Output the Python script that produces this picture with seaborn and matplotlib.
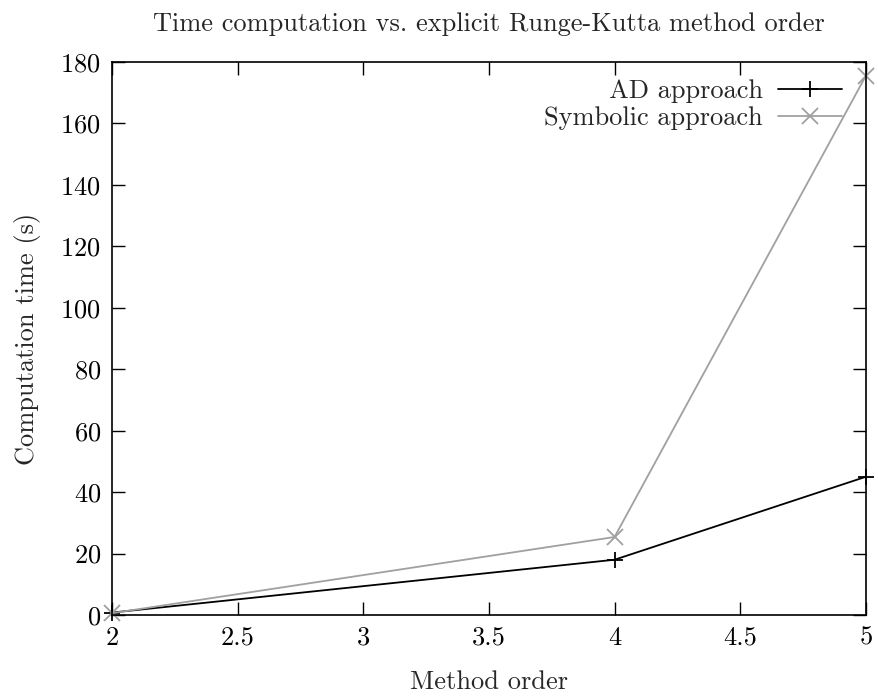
"""Computation time vs. explicit Runge-Kutta method order."""

import matplotlib
matplotlib.use("Agg")
import matplotlib.pyplot as plt
import pandas as pd
import seaborn as sns

orders = [2, 4, 5]
ad_times = [0.8, 18.0, 45.0]
symbolic_times = [0.6, 25.4, 175.5]

df = pd.DataFrame({
    "order": orders * 2,
    "time": ad_times + symbolic_times,
    "approach": ["AD approach"] * 3 + ["Symbolic approach"] * 3,
})

sns.set_theme(style="ticks")
plt.rcParams["font.family"] = ["cmr10", "DejaVu Serif"]
plt.rcParams["axes.formatter.use_mathtext"] = True
plt.rcParams["mathtext.fontset"] = "cm"

FS = 19

fig = plt.figure(figsize=(8.79, 6.97), dpi=100)
ax = fig.add_axes([0.1274, 0.1176, 0.8576, 0.7934])

palette = {"AD approach": "black", "Symbolic approach": "#a0a0a0"}
markers = {"AD approach": "+", "Symbolic approach": "x"}
sns.lineplot(
    data=df, x="order", y="time", hue="approach", style="approach",
    palette=palette, markers=markers, dashes=False, ax=ax,
    linewidth=1.3, markersize=11, markeredgewidth=1.3,
)
# seaborn paints unfilled markers white; give them the line colour
for line in ax.lines:
    line.set_markeredgecolor(line.get_color())
    line.set_clip_on(False)

ax.set_xlim(2, 5)
ax.set_ylim(0, 180)
ax.set_xticks([2, 2.5, 3, 3.5, 4, 4.5, 5])
ax.set_xticklabels(["2", "2.5", "3", "3.5", "4", "4.5", "5"])
ax.set_yticks(range(0, 181, 20))
ax.tick_params(direction="in", top=True, right=True, length=9.5, width=1,
               labelsize=FS, colors="black", pad=8)
for s in ax.spines.values():
    s.set_linewidth(1.2)
    s.set_color("black")

ax.set_xlabel("Method order", fontsize=FS, labelpad=15)
ax.set_ylabel("Computation time (s)", fontsize=FS, labelpad=14)
ax.set_title("Time computation vs. explicit Runge-Kutta method order",
             fontsize=FS, pad=22)

leg = ax.legend(loc="upper right", bbox_to_anchor=(0.968, 0.969),
                frameon=False, markerfirst=False,
                fontsize=FS, handlelength=2.4, handletextpad=0.6,
                borderaxespad=0, borderpad=0,
                labelspacing=0.12, alignment="right")
for t in leg.get_texts():
    t.set_ha("right")
for h in leg.legend_handles:
    h.set_markeredgecolor(h.get_color())

fig.savefig("out.png", dpi=100)
